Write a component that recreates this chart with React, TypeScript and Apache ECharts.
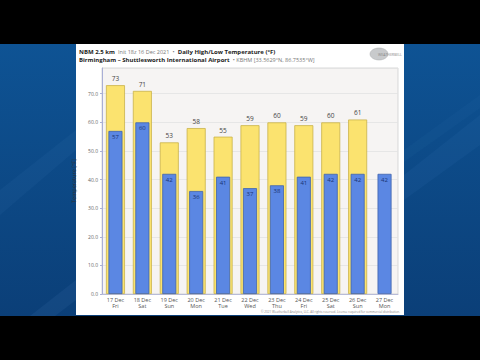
import React, { useEffect, useRef } from "react";
import * as echarts from "echarts";

const categories = ["17 Dec\nFri", "18 Dec\nSat", "19 Dec\nSun", "20 Dec\nMon", "21 Dec\nTue", "22 Dec\nWed", "23 Dec\nThu", "24 Dec\nFri", "25 Dec\nSat", "26 Dec\nSun", "27 Dec\nMon"];
const highs: (number | null)[] = [73, 71, 53, 58, 55, 59, 60, 59, 60, 61, null];
const lows: number[] = [57, 60, 42, 36, 41, 37, 38, 41, 42, 42, 42];
const yTicks = [0, 10, 20, 30, 40, 50, 60, 70];

export default function App() {
  const ref = useRef<HTMLDivElement>(null);
  useEffect(() => {
    document.body.style.margin = "0";
    const chart = echarts.init(ref.current!, null, { renderer: "svg" });
    const stripe = (pts: number[][], op: number) => ({
      type: "polygon",
      silent: true,
      z: -9,
      shape: { points: pts },
      style: { fill: `rgba(110,170,230,${op})` },
    });
    chart.setOption({
      animation: false,
      backgroundColor: "#000",
      graphic: [
        {
          type: "rect",
          z: -10,
          silent: true,
          shape: { x: 0, y: 44, width: 480, height: 272 },
          style: {
            fill: new echarts.graphic.LinearGradient(0, 0, 0, 1, [
              { offset: 0, color: "#0e5394" },
              { offset: 1, color: "#0b3f78" },
            ]),
          },
        },
        stripe([[0, 190], [76, 130], [76, 150], [0, 215]], 0.05),
        stripe([[30, 316], [76, 280], [76, 300], [55, 316]], 0.08),
        stripe([[404, 175], [480, 115], [480, 145], [404, 200]], 0.06),
        stripe([[404, 150], [480, 95], [480, 108], [404, 162]], 0.04),
        {
          type: "rect",
          z: -8,
          silent: true,
          shape: { x: 76, y: 44, width: 328, height: 271 },
          style: { fill: "#ffffff" },
        },
        {
          type: "text",
          left: 79,
          top: 45.5,
          style: {
            text: "{b|NBM 2.5 km} {l|Init 18z 16 Dec 2021} {l|•} {b|Daily High/Low Temperature (°F)}\n{b|Birmingham – Shuttlesworth International Airport} {l|• KBHM [33.5629°N, 86.7535°W]}",
            fontFamily: "Open Sans",
            lineHeight: 8.5,
            rich: {
              b: { fontSize: 6, fontWeight: "bold", fill: "#222", fontFamily: "Open Sans", lineHeight: 8.5 },
              l: { fontSize: 5.5, fill: "#777", fontFamily: "Open Sans", lineHeight: 8.5 },
            },
          },
        },
        {
          type: "ellipse",
          silent: true,
          shape: { cx: 379, cy: 54, rx: 9, ry: 6 },
          style: { fill: "#c8cacc", stroke: "#a8aaad", lineWidth: 0.5 },
        },
        {
          type: "text",
          left: 378,
          top: 52,
          style: { text: "WEATHERBELL", fontSize: 3.5, fill: "#888", fontFamily: "Open Sans" },
        },
        {
          type: "text",
          right: 80,
          top: 310.5,
          style: {
            text: "© 2021 Weatherbell Analytics, LLC. All rights reserved. License required for commercial distribution.",
            fontSize: 3,
            fill: "#888",
            fontFamily: "Open Sans",
          },
        },
      ],
      grid: {
        left: 102,
        right: 82,
        top: 68,
        bottom: 66,
        show: true,
        backgroundColor: "#f6f4f3",
        borderColor: "#cfcfcf",
        borderWidth: 0.8,
      },
      xAxis: [
        {
          type: "category",
          data: categories,
          axisLine: { lineStyle: { color: "#b8bcd8" } },
          axisTick: { show: false },
          axisLabel: { fontSize: 5.5, lineHeight: 6.5, color: "#555", margin: 2.5, fontFamily: "Open Sans" },
        },
        {
          type: "category",
          data: categories,
          show: false,
        },
      ],
      yAxis: {
        type: "value",
        min: 0,
        max: 79,
        interval: 10,
        name: "Temperature [°F]",
        nameLocation: "middle",
        nameRotate: 90,
        nameGap: 18,
        nameTextStyle: { fontSize: 5.5, color: "#333", fontFamily: "Open Sans" },
        axisLine: { show: true, lineStyle: { color: "#a9afd6" } },
        axisTick: { show: true, length: 2, lineStyle: { color: "#a9afd6" } },
        axisLabel: {
          fontSize: 5,
          color: "#666",
          margin: 4,
          showMaxLabel: false,
          fontFamily: "Open Sans",
          formatter: (v: number) => (yTicks.includes(v) ? v.toFixed(1) : ""),
        },
        splitLine: { lineStyle: { color: "#e2e2e2", width: 0.8 } },
      },
      series: [
        {
          type: "bar",
          xAxisIndex: 0,
          data: highs,
          barWidth: 19,
          itemStyle: { color: "#fbe36f", borderColor: "#c9b24a", borderWidth: 0.8 },
          label: {
            show: true,
            position: "top",
            distance: 3,
            fontSize: 6.5,
            color: "#444",
            fontFamily: "Open Sans",
          },
        },
        {
          type: "bar",
          xAxisIndex: 1,
          data: lows,
          barWidth: 14,
          itemStyle: { color: "#5b87e3", borderColor: "#3f63ad", borderWidth: 0.8 },
          label: {
            show: true,
            position: "insideTop",
            distance: 3,
            fontSize: 6,
            color: "#1a3474",
            fontFamily: "Open Sans",
          },
        },
      ],
    });
    return () => chart.dispose();
  }, []);
  return <div ref={ref} style={{ width: 480, height: 360, position: "fixed", left: 0, top: 0 }} />;
}
